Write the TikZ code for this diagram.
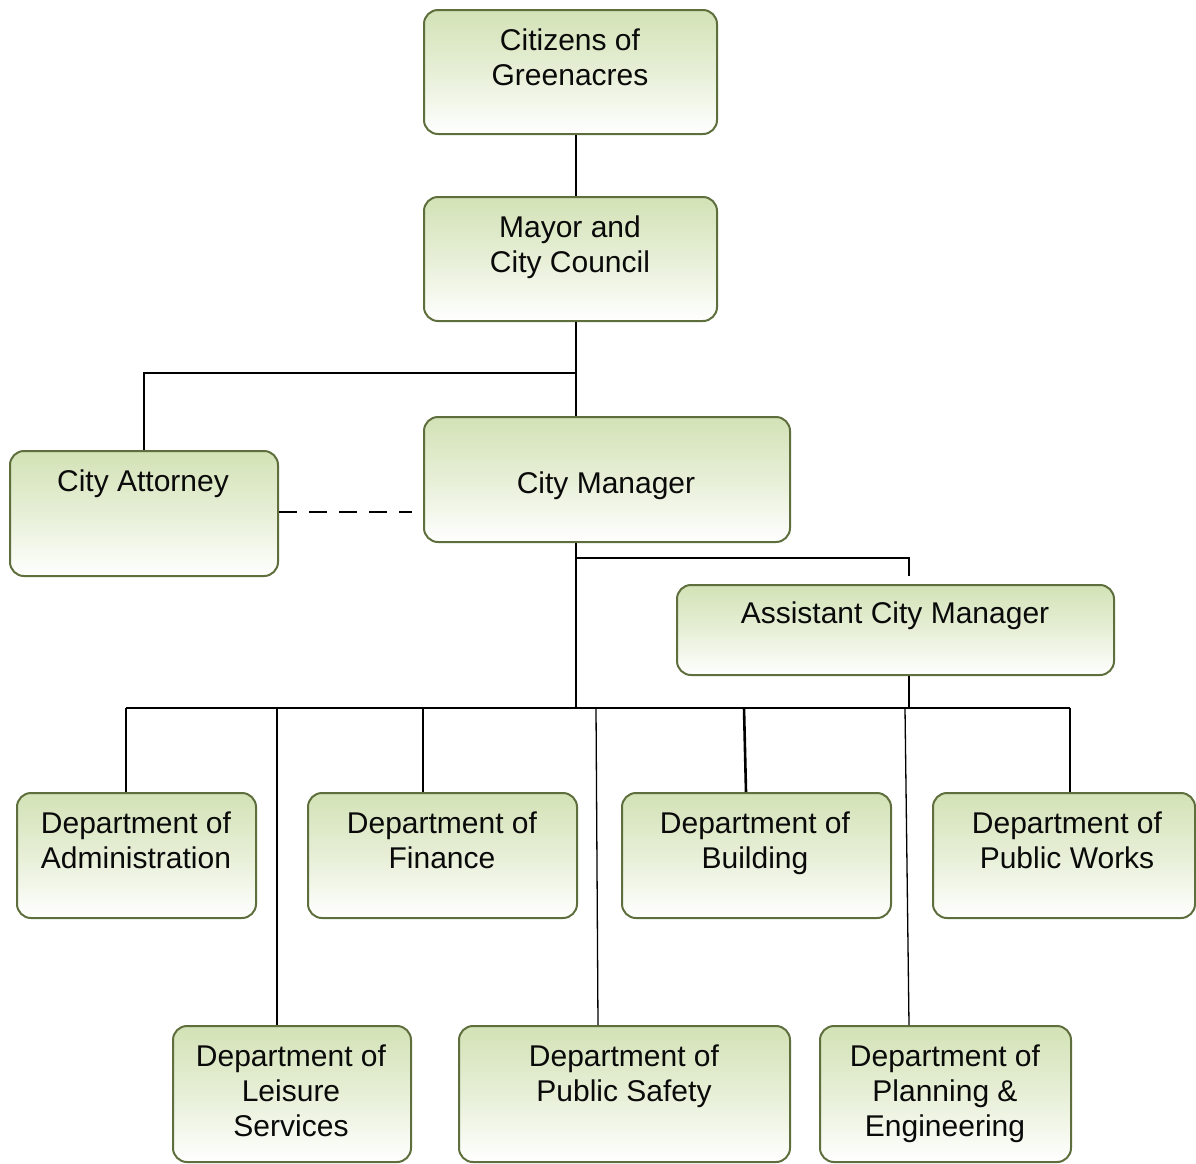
\documentclass[tikz,border=0pt]{standalone}
\usepackage{fontspec}
\setmainfont{Liberation Sans}
\definecolor{boxgreen}{HTML}{D3E2B6}
\definecolor{boxborder}{HTML}{5E6E3C}
\definecolor{txtcol}{HTML}{0A0A0A}
\begin{document}
\begin{tikzpicture}[x=1pt,y=-1pt,
  box/.style={draw=boxborder, line width=2pt, rounded corners=14pt,
    top color=boxgreen, bottom color=white, middle color=boxgreen!55,
    inner sep=0pt, anchor=north west},
  txt/.style={font=\fontsize{30}{35}\selectfont, text=txtcol, align=center, inner sep=0pt, anchor=north},
  conn/.style={line width=2.6pt, black},
  thinconn/.style={line width=1.3pt, black},
  dashconn/.style={line width=2.2pt, black, dash pattern=on 18pt off 12pt}]
\useasboundingbox (0,0) rectangle (1196,1163);
% boxes
\node[box, minimum width=293pt, minimum height=124pt] (cit) at (423,9) {};
\node[box, minimum width=293pt, minimum height=124pt] (may) at (423,196) {};
\node[box, minimum width=268pt, minimum height=125pt] (att) at (9,450) {};
\node[box, minimum width=366pt, minimum height=125pt] (man) at (423,416) {};
\node[box, minimum width=437pt, minimum height=90pt] (asm) at (676,584) {};
\node[box, minimum width=239pt, minimum height=125pt] (adm) at (16,792) {};
\node[box, minimum width=269pt, minimum height=125pt] (fin) at (307,792) {};
\node[box, minimum width=269pt, minimum height=125pt] (bld) at (621,792) {};
\node[box, minimum width=262pt, minimum height=125pt] (pwk) at (932,792) {};
\node[box, minimum width=238pt, minimum height=136pt] (lei) at (172,1025) {};
\node[box, minimum width=331pt, minimum height=136pt] (pss) at (458,1025) {};
\node[box, minimum width=251pt, minimum height=136pt] (pln) at (819,1025) {};
% texts
\node[txt] (tcit) at (570,29) {Citizens of\\Greenacres};
\node[txt] (tmay) at (570,216) {Mayor and\\City Council};
\node[txt] (tatt) at (143,470) {City Attorney};
\node[txt] (tman) at (606,472) {City Manager};
\node[txt] (tasm) at (895,602) {Assistant City Manager};
\node[txt] (tadm) at (136,812) {Department of\\Administration};
\node[txt] (tfin) at (442,812) {Department of\\Finance};
\node[txt] (tbld) at (755,812) {Department of\\Building};
\node[txt] (tpwk) at (1067,812) {Department of\\Public Works};
\node[txt] (tlei) at (291,1045) {Department of\\Leisure\\Services};
\node[txt] (tpss) at (624,1045) {Department of\\Public Safety};
\node[txt] (tpln) at (945,1045) {Department of\\Planning \&\\Engineering};
% junction coordinates
\coordinate (j1) at (576,373);
\coordinate (j2) at (144,373);
\coordinate (j3) at (576,558);
\coordinate (j4) at (909,558);
\coordinate (j5) at (909,576);
\coordinate (busM) at (576,708);
\coordinate (busA) at (909,708);
\coordinate (busL) at (126,708);
\coordinate (busR) at (1070,708);
\coordinate (d412) at (412,512);
% connectors
\draw[conn] (cit.south -| j1) -- (may.north -| j1);
\draw[conn] (may.south -| j1) -- (man.north -| j1);
\draw[conn] (j1) -- (j2) -- (att.north -| j2);
\draw[dashconn] (att.east |- d412) -- (d412);
\draw[conn] (man.south -| j3) -- (busM);
\draw[conn] (j3) -- (j4) -- (j5);
\draw[conn] (asm.south -| busA) -- (busA);
\draw[conn] (busL) -- (busR);
\draw[conn] (busL) -- (adm.north -| busL);
\draw[conn] (423,708) -- (fin.north -| 423,0);
\draw[conn] (744,708) -- (746,792);
\draw[conn] (busR) -- (pwk.north -| busR);
\draw[thinconn] (277,708) -- (lei.north -| 277,0);
\draw[thinconn] (596,708) -- (598,1025);
\draw[thinconn] (905,708) -- (909,1025);
\end{tikzpicture}
\end{document}
